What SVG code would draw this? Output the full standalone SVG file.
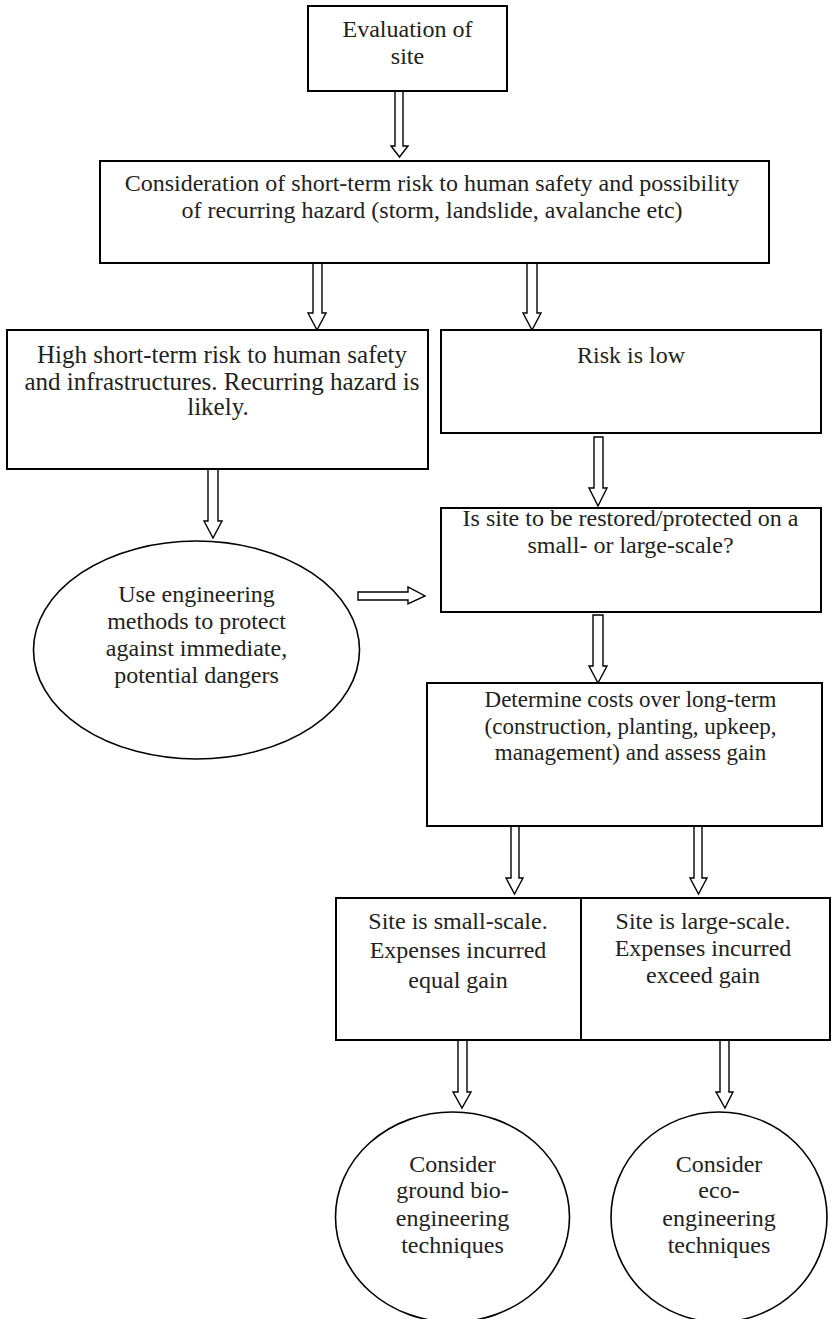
<svg xmlns="http://www.w3.org/2000/svg" width="831" height="1319" viewBox="0 0 831 1319">
<style>
.box{fill:#fff;stroke:#000;stroke-width:2}
.ell{fill:#fff;stroke:#000;stroke-width:1.6}
.arr{fill:#fff;stroke:#000;stroke-width:1.4;stroke-linejoin:miter}
text{font-family:"Liberation Serif","Times New Roman",serif;font-size:24px;fill:#222;text-anchor:middle}
.big{font-size:25px}
.sm{font-size:23px}
</style>
<rect width="831" height="1319" fill="#fff"/>
<g id="connectors">
<path class="arr" d="M395,91 V146 H391 L399.5,157 L408,146 H403 V91 Z"/>
<path class="arr" d="M313,263 V313 H308 L317,330 L326,313 H322 V263 Z"/>
<path class="arr" d="M527,263 V313 H523 L532,330 L541,313 H537 V263 Z"/>
<path class="arr" d="M208,469 V521 H204 L213,538 L222,521 H218 V469 Z"/>
<path class="arr" d="M594,437 V488 H589 L598,506 L607,488 H603 V437 Z"/>
<path class="arr" d="M593,615 V666 H589 L598,683 L607,666 H603 V615 Z"/>
<path class="arr" d="M358,592 H408 V587 L425,596 L408,604 V600 H358 Z"/>
<path class="arr" d="M511,826 V878 H506 L514.5,894 L523,878 H519 V826 Z"/>
<path class="arr" d="M694,826 V878 H690 L698.5,894 L707,878 H702 V826 Z"/>
<path class="arr" d="M458,1040 V1092 H453 L462,1108 L471,1092 H467 V1040 Z"/>
<path class="arr" d="M720,1040 V1092 H716 L725,1108 L733,1092 H729 V1040 Z"/>
</g>
<g id="n1">
<rect class="box" x="308" y="6" width="199" height="85"/>
<text x="407.5" y="37">Evaluation of</text>
<text x="407.5" y="64">site</text>
</g>
<g id="n2">
<rect class="box" x="100" y="161" width="669" height="102"/>
<text x="432" y="191">Consideration of short-term risk to human safety and possibility</text>
<text x="432" y="218">of recurring hazard (storm, landslide, avalanche etc)</text>
</g>
<g id="n3">
<rect class="box" x="7" y="330" width="421" height="139"/>
<text class="big" x="222" y="363">High short-term risk to human safety</text>
<text class="big" x="222" y="390">and infrastructures. Recurring hazard is</text>
<text class="big" x="218" y="415">likely.</text>
</g>
<g id="n4">
<rect class="box" x="441" y="330" width="380" height="103"/>
<text x="631" y="363">Risk is low</text>
</g>
<g id="n5">
<ellipse class="ell" cx="196.5" cy="650" rx="163" ry="109"/>
<text x="196.5" y="602">Use engineering</text>
<text x="196.5" y="629">methods to protect</text>
<text x="196.5" y="656">against immediate,</text>
<text x="196.5" y="683">potential dangers</text>
</g>
<g id="n6">
<rect class="box" x="441" y="508" width="380" height="104"/>
<text x="630.5" y="526">Is site to be restored/protected on a</text>
<text x="630.5" y="553">small- or large-scale?</text>
</g>
<g id="n7">
<rect class="box" x="427" y="683" width="395" height="143"/>
<text class="sm" x="630.5" y="707">Determine costs over long-term</text>
<text class="sm" x="630.5" y="734">(construction, planting, upkeep,</text>
<text class="sm" x="630.5" y="760">management) and assess gain</text>
</g>
<g id="n8">
<rect class="box" x="336" y="898" width="245" height="142"/>
<text x="458" y="929">Site is small-scale.</text>
<text x="458" y="958">Expenses incurred</text>
<text x="458" y="988">equal gain</text>
</g>
<g id="n9">
<rect class="box" x="581" y="898" width="249" height="142"/>
<text x="703" y="929">Site is large-scale.</text>
<text x="703" y="956">Expenses incurred</text>
<text x="703" y="983">exceed gain</text>
</g>
<g id="n10">
<ellipse class="ell" cx="452.5" cy="1217" rx="117" ry="105"/>
<text x="452.5" y="1172">Consider</text>
<text x="452.5" y="1198">ground bio-</text>
<text x="452.5" y="1226">engineering</text>
<text x="452.5" y="1253">techniques</text>
</g>
<g id="n11">
<ellipse class="ell" cx="719" cy="1217" rx="108" ry="105"/>
<text x="719" y="1172">Consider</text>
<text x="719" y="1198">eco-</text>
<text x="719" y="1226">engineering</text>
<text x="719" y="1253">techniques</text>
</g>
</svg>
